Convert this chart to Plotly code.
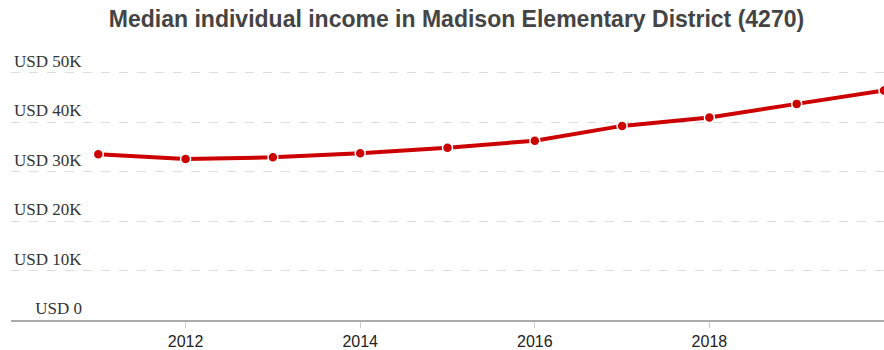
import plotly.graph_objects as go

years = [2011, 2012, 2013, 2014, 2015, 2016, 2017, 2018, 2019, 2020]
income = [33500, 32550, 32900, 33700, 34850, 36250, 39250, 40950, 43700, 46400]

tick_vals_y = [0, 10000, 20000, 30000, 40000, 50000]
tick_text_y = ["\u00a0" * 5 + "USD 0", "USD 10K", "USD 20K", "USD 30K", "USD 40K", "USD 50K"]
tick_vals_x = [2012, 2014, 2016, 2018]
tick_text_x = ["2012", "2014", "2016", "2018"]

title_text = "Median individual income in Madison Elementary District (4270)"

fig = go.Figure()
fig.add_trace(go.Scatter(
    x=years, y=income, mode="lines+markers",
    line=dict(color="#cc0000", width=4),
    marker=dict(color="#cc0000", size=10, line=dict(color="white", width=1.5)),
    hoverinfo="x+y",
))

fig.update_layout(
    width=884, height=350,
    margin=dict(l=11, r=0, t=48, b=30),
    paper_bgcolor="white", plot_bgcolor="white",
    showlegend=False,
    title=dict(text=title_text, x=456.5 / 884, xanchor="center", y=0.945, yanchor="middle",
               font=dict(family="Liberation Sans, Arial, sans-serif", size=23, color="#444444",
                         weight="bold")),
    xaxis=dict(
        range=[2010, 2020], tickvals=tick_vals_x, ticktext=tick_text_x,
        showgrid=False, zeroline=False,
        showline=True, linecolor="#aaaaaa", linewidth=2,
        ticks="outside", ticklen=6, tickcolor="#cccccc", tickwidth=1,
        tickfont=dict(family="Liberation Sans, Arial, sans-serif", size=16, color="#222222"),
    ),
    yaxis=dict(
        range=[0, 55000], tickvals=tick_vals_y, ticktext=tick_text_y,
        showgrid=True, gridcolor="#dddddd", griddash="dash", gridwidth=1,
        zeroline=False, showline=False,
        ticklabelposition="inside top",
        tickfont=dict(family="Liberation Serif, Times New Roman, serif", size=17, color="#333333"),
    ),
)

fig.write_html("out.html")
